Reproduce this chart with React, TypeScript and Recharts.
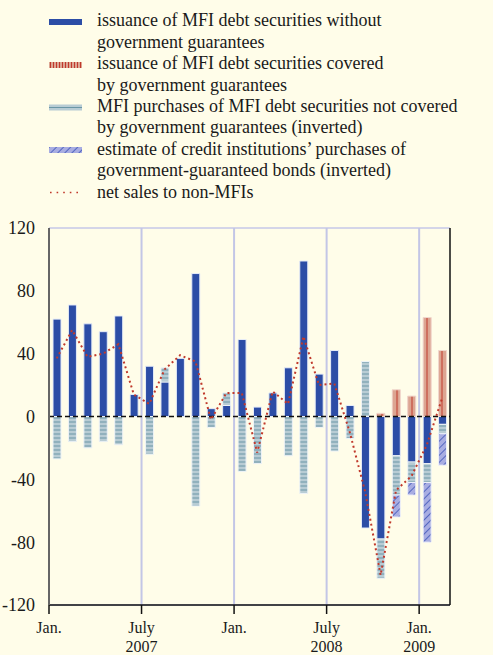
import React from 'react';
import { ComposedChart, Bar, Line, XAxis, YAxis, CartesianGrid, ReferenceLine } from 'recharts';

const months = [
  '2007-01', '2007-02', '2007-03', '2007-04', '2007-05', '2007-06', '2007-07', '2007-08', '2007-09', '2007-10', '2007-11', '2007-12',
  '2008-01', '2008-02', '2008-03', '2008-04', '2008-05', '2008-06', '2008-07', '2008-08', '2008-09', '2008-10', '2008-11', '2008-12',
  '2009-01', '2009-02',
];
const issuanceWithout = [62, 71, 59, 54, 64, 14, 32, 22, 37, 91, 5, 7, 49, 6, 15, 31, 99, 27, 42, 7, -71, -78, -25, -29, -30, -5];
const issuanceCovered = [0, 0, 0, 0, 0, 0, 0, 0, 0, 0, 0, 0, 0, 0, 0, 0, 0, 0, 0, 0, 0, 2, 17, 13, 63, 42];
const mfiPurchasesInv = [-27, -16, -20, -16, -18, 0, -24, 9, 0, -57, -7, 8, -35, -30, 0, -25, -49, -7, -22, -14, 35, -25, -25, -13, -12, -6];
const creditInstInv = [0, 0, 0, 0, 0, 0, 0, 0, 0, 0, 0, 0, 0, 0, 0, 0, 0, 0, 0, 0, 0, 0, -14, -8, -38, -20];
const netSales = [37, 55, 38, 40, 46, 14, 8, 30, 39, 35, -2, 15, 15, -23, 16, 8, 51, 20, 21, -10, -48, -101, -47, -38, -18, 12];

const yTicks = [-120, -80, -40, 0, 40, 80, 120];
const xTickPositions = [0, 6, 12, 18, 24];
const xTickLabels: string[][] = [['Jan.'], ['July', '2007'], ['Jan.'], ['July', '2008'], ['Jan.', '2009']];

const legendItems = [
  { key: 'blue', lines: ['issuance of MFI debt securities without', 'government guarantees'] },
  { key: 'red', lines: ['issuance of MFI debt securities covered', 'by government guarantees'] },
  { key: 'light', lines: ['MFI purchases of MFI debt securities not covered', 'by government guarantees (inverted)'] },
  { key: 'hatch', lines: ['estimate of credit institutions\u2019 purchases of', 'government-guaranteed bonds (inverted)'] },
  { key: 'dot', lines: ['net sales to non-MFIs'] },
];

const data = months.map((m, i) => ({
  month: m,
  x: i + 0.5,
  blue: issuanceWithout[i],
  red: issuanceCovered[i],
  light: mfiPurchasesInv[i],
  hatch: creditInstInv[i],
  net: netSales[i],
}));

const BG = '#FFFDE9';
const BLUE = '#2C4DA6';
const RED_FILL = '#DCA592';
const RED_LINE = '#C0392B';
const LIGHT_FILL = '#B8CCD4';
const LIGHT_LINE = '#6A96A6';
const HATCH_FILL = '#A8ADE2';
const HATCH_LINE = '#3F56B8';
const GRID = '#A9AEE8';
const FONT = '"Liberation Serif", "Times New Roman", serif';

const Patterns = () => (
  <defs>
    <pattern id="redStripe" patternUnits="userSpaceOnUse" width="5" height="5">
      <rect width="5" height="5" fill={RED_FILL} />
      <line x1="2" y1="0" x2="2" y2="5" stroke={RED_LINE} strokeWidth="1" />
    </pattern>
    <pattern id="lightStripe" patternUnits="userSpaceOnUse" width="6" height="4">
      <rect width="6" height="4" fill={LIGHT_FILL} />
      <line x1="0" y1="2" x2="6" y2="2" stroke={LIGHT_LINE} strokeWidth="1" />
    </pattern>
    <pattern id="hatch" patternUnits="userSpaceOnUse" width="5" height="5" patternTransform="rotate(-45)">
      <rect width="5" height="5" fill={HATCH_FILL} />
      <line x1="0" y1="2.5" x2="5" y2="2.5" stroke={HATCH_LINE} strokeWidth="0.8" />
    </pattern>
  </defs>
);

const LeftTick = (props: any) => {
  const { x, y, payload } = props;
  return (
    <text x={x} y={y} dy="0.36em" textAnchor="end" fontFamily={FONT} fontSize={18} fill="#1a1a1a">
      {payload.value}
    </text>
  );
};

const RightTick = (props: any) => {
  const { x, y, payload } = props;
  const neg = payload.value < 0;
  return (
    <text x={x + (neg ? 0 : 6)} y={y} dy="0.36em" textAnchor="start" fontFamily={FONT} fontSize={18} fill="#1a1a1a">
      {payload.value}
    </text>
  );
};

const BottomTick = (props: any) => {
  const { x, y, payload } = props;
  const idx = xTickPositions.indexOf(payload.value);
  const lines = idx >= 0 ? xTickLabels[idx] : [];
  return (
    <g>
      {lines.map((t, k) => (
        <text key={k} x={x} y={y + 17 + k * 18.5} textAnchor="middle" fontFamily={FONT} fontSize={16} fill="#1a1a1a">
          {t}
        </text>
      ))}
    </g>
  );
};

const Swatch = ({ kind }: { kind: string }) => {
  if (kind === 'blue') return <rect x={0} y={3} width={33} height={6} fill={BLUE} />;
  if (kind === 'red') return <rect x={0} y={3} width={33} height={6} fill="url(#lgRed)" />;
  if (kind === 'light')
    return (
      <g>
        <rect x={0} y={3} width={33} height={6} fill={LIGHT_FILL} />
        <line x1={0} y1={6} x2={33} y2={6} stroke={LIGHT_LINE} strokeWidth={1} />
      </g>
    );
  if (kind === 'hatch') return <rect x={0} y={3} width={33} height={6} fill="url(#lgHatch)" />;
  return <line x1={1} y1={6} x2={33} y2={6} stroke={RED_LINE} strokeWidth={1.6} strokeDasharray="1.6 5" />;
};

const swatchCenters = [22, 65, 107.5, 150, 192.5];
const lineBaselines = [26, 47.5, 69, 90.5, 112, 133, 154.5, 176, 197.5];

const LegendBlock = () => {
  let li = 0;
  return (
    <svg width={493} height={210} style={{ position: 'absolute', left: 0, top: 0 }}>
      <defs>
        <pattern id="lgRed" patternUnits="userSpaceOnUse" width="3" height="6">
          <rect width="3" height="6" fill={RED_FILL} />
          <line x1="1.5" y1="0" x2="1.5" y2="6" stroke={RED_LINE} strokeWidth="1" />
        </pattern>
        <pattern id="lgHatch" patternUnits="userSpaceOnUse" width="5" height="5" patternTransform="rotate(-45)">
          <rect width="5" height="5" fill={HATCH_FILL} />
          <line x1="0" y1="2.5" x2="5" y2="2.5" stroke={HATCH_LINE} strokeWidth="0.8" />
        </pattern>
      </defs>
      {legendItems.map((item, i) => {
        const texts = item.lines.map((t) => {
          const b = lineBaselines[li++];
          return (
            <text key={t} x={97} y={b} fontFamily={FONT} fontSize={18} fill="#1a1a1a">
              {t}
            </text>
          );
        });
        return (
          <g key={item.key}>
            <g transform={`translate(49, ${swatchCenters[i] - 6})`}>
              <Swatch kind={item.key} />
            </g>
            {texts}
          </g>
        );
      })}
    </svg>
  );
};

export default function App() {
  return (
    <div style={{ position: 'fixed', left: 0, top: 0, width: 493, height: 655, background: BG, overflow: 'hidden' }}>
      <LegendBlock />
      <div style={{ position: 'absolute', left: 0, top: 0 }}>
        <ComposedChart
          width={493}
          height={655}
          data={data}
          stackOffset="sign"
          margin={{ top: 228, right: 0, bottom: 0, left: 0 }}
        >
          <Patterns />
          <CartesianGrid horizontal={true} vertical={false} stroke={GRID} strokeWidth={1.2} />
          <XAxis
            xAxisId="x"
            type="number"
            dataKey="x"
            domain={[0, 26]}
            ticks={xTickPositions}
            interval={0}
            height={50}
            axisLine={{ stroke: '#111', strokeWidth: 1.5 }}
            tickLine={{ stroke: '#111', strokeWidth: 1.5 }}
            tickSize={9}
            tick={<BottomTick />}
          />
          <YAxis
            yAxisId="left"
            orientation="left"
            domain={[-120, 120]}
            ticks={yTicks}
            interval={0}
            width={49}
            axisLine={{ stroke: '#666', strokeWidth: 2 }}
            tickLine={false}
            tickMargin={8}
            tick={<LeftTick />}
          />
          <YAxis
            yAxisId="right"
            orientation="right"
            domain={[-120, 120]}
            ticks={yTicks}
            interval={0}
            width={43}
            axisLine={{ stroke: '#111', strokeWidth: 1.5 }}
            tickLine={false}
            tickMargin={8}
            tick={<RightTick />}
          />
          {xTickPositions.slice(1).map((v) => (
            <ReferenceLine key={v} xAxisId="x" yAxisId="left" x={v} stroke="#C3C6E6" strokeWidth={2} />
          ))}
          <ReferenceLine xAxisId="x" yAxisId="left" y={0} stroke="#111" strokeWidth={1.5} strokeDasharray="5 3" />
          <Bar xAxisId="x" yAxisId="left" dataKey="blue" stackId="s" barSize={8} fill={BLUE} stroke="#E6ECF7" strokeWidth={1} isAnimationActive={false} />
          <Bar xAxisId="x" yAxisId="left" dataKey="red" stackId="s" barSize={8} fill="url(#redStripe)" stroke="#F0D6CC" strokeWidth={1} isAnimationActive={false} />
          <Bar xAxisId="x" yAxisId="left" dataKey="light" stackId="s" barSize={8} fill="url(#lightStripe)" stroke="#EEF3F6" strokeWidth={1} isAnimationActive={false} />
          <Bar xAxisId="x" yAxisId="left" dataKey="hatch" stackId="s" barSize={8} fill="url(#hatch)" stroke="#EEF0FA" strokeWidth={1} isAnimationActive={false} />
          <Line
            xAxisId="x"
            yAxisId="left"
            dataKey="net"
            type="linear"
            stroke={RED_LINE}
            strokeWidth={2}
            strokeDasharray="2 3"
            dot={false}
            activeDot={false}
            isAnimationActive={false}
          />
        </ComposedChart>
      </div>
    </div>
  );
}
